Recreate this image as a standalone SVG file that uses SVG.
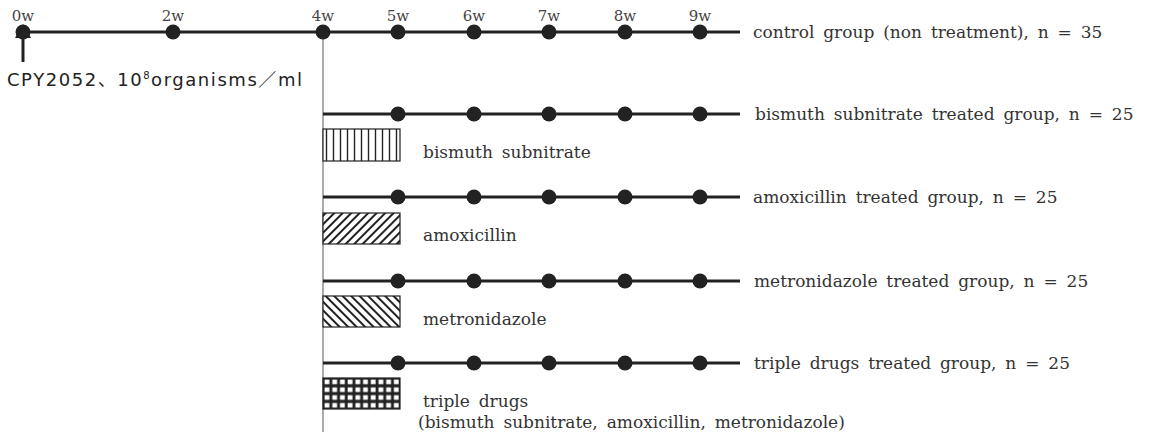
<svg xmlns="http://www.w3.org/2000/svg" width="1150" height="437" viewBox="0 0 1150 437">
  <style>
    .tl { stroke: #222; stroke-width: 3; fill: none; }
    .dot { fill: #222; }
    .wk { font-family: "DejaVu Serif", "Liberation Serif", serif; font-size: 15px; fill: #444; text-anchor: middle; }
    .lbl { font-family: "DejaVu Serif", "Liberation Serif", serif; font-size: 17px; fill: #333; word-spacing: 3.5px; }
    .box { stroke: #222; stroke-width: 1.2; }
  </style>
  <defs>
    <pattern id="vert" patternUnits="userSpaceOnUse" width="7" height="10" x="323">
      <rect width="7" height="10" fill="#fff"/>
      <line x1="3.5" y1="0" x2="3.5" y2="10" stroke="#222" stroke-width="1.4"/>
    </pattern>
    <!-- forward slashes //// -->
    <pattern id="fwd" patternUnits="userSpaceOnUse" width="6" height="6" patternTransform="rotate(-45)">
      <rect width="6" height="6" fill="#fff"/>
      <line x1="0" y1="3" x2="6" y2="3" stroke="#222" stroke-width="2"/>
    </pattern>
    <!-- back slashes \\\\ -->
    <pattern id="bwd" patternUnits="userSpaceOnUse" width="6" height="6" patternTransform="rotate(45)">
      <rect width="6" height="6" fill="#fff"/>
      <line x1="0" y1="3" x2="6" y2="3" stroke="#222" stroke-width="2"/>
    </pattern>
    <pattern id="grid" patternUnits="userSpaceOnUse" width="7.7" height="7.8" x="323" y="378">
      <rect width="7.7" height="7.8" fill="#222"/>
      <rect x="1.6" y="1.6" width="4.8" height="4.6" fill="#fff"/>
    </pattern>
  </defs>

  <!-- treatment start marker at week 4 -->
  <line x1="323" y1="38" x2="323" y2="432" stroke="#aaa" stroke-width="2"/>

  <g id="connectors">
    <line class="tl" x1="23" y1="32" x2="740" y2="32"/>
    <line class="tl" x1="323" y1="114" x2="740" y2="114"/>
    <line class="tl" x1="323" y1="197" x2="740" y2="197"/>
    <line class="tl" x1="323" y1="281" x2="740" y2="281"/>
    <line class="tl" x1="323" y1="363" x2="740" y2="363"/>
    <!-- inoculation arrow -->
    <line x1="23" y1="62" x2="23" y2="36" stroke="#222" stroke-width="3"/>
    <polygon points="23,24 15,38 31,38" fill="#222"/>
  </g>

  <g id="control">
    <g class="dot">
      <circle cx="23" cy="32" r="7.5"/>
      <circle cx="173" cy="32" r="7.5"/>
      <circle cx="323" cy="32" r="7.5"/>
      <circle cx="398" cy="32" r="7.5"/>
      <circle cx="474" cy="32" r="7.5"/>
      <circle cx="549" cy="32" r="7.5"/>
      <circle cx="625" cy="32" r="7.5"/>
      <circle cx="700" cy="32" r="7.5"/>
    </g>
    <text class="wk" x="23" y="21">0w</text>
    <text class="wk" x="173" y="21">2w</text>
    <text class="wk" x="323" y="21">4w</text>
    <text class="wk" x="398" y="21">5w</text>
    <text class="wk" x="474" y="21">6w</text>
    <text class="wk" x="549" y="21">7w</text>
    <text class="wk" x="625" y="21">8w</text>
    <text class="wk" x="700" y="21">9w</text>
    <text class="lbl" x="753" y="38">control group (non treatment), n = 35</text>
  </g>

  <g id="inoculation">
    <text x="7" y="86" font-family="'DejaVu Sans', 'Noto Sans CJK KR', sans-serif" font-size="18" fill="#222" textLength="295" lengthAdjust="spacing">CPY2052、10<tspan font-size="10" dy="-7">8</tspan><tspan dy="7">organisms／ml</tspan></text>
  </g>

  <g id="bismuth">
    <g class="dot">
      <circle cx="398" cy="114" r="7.5"/><circle cx="474" cy="114" r="7.5"/><circle cx="549" cy="114" r="7.5"/><circle cx="625" cy="114" r="7.5"/><circle cx="700" cy="114" r="7.5"/>
    </g>
    <rect class="box" x="323" y="129" width="77" height="32" fill="url(#vert)"/>
    <text class="lbl" x="423" y="158">bismuth subnitrate</text>
    <text class="lbl" x="755" y="120">bismuth subnitrate treated group, n = 25</text>
  </g>

  <g id="amoxicillin">
    <g class="dot">
      <circle cx="398" cy="197" r="7.5"/><circle cx="474" cy="197" r="7.5"/><circle cx="549" cy="197" r="7.5"/><circle cx="625" cy="197" r="7.5"/><circle cx="700" cy="197" r="7.5"/>
    </g>
    <rect class="box" x="323" y="213" width="77" height="31" fill="url(#fwd)"/>
    <text class="lbl" x="423" y="241">amoxicillin</text>
    <text class="lbl" x="753" y="203">amoxicillin treated group, n = 25</text>
  </g>

  <g id="metronidazole">
    <g class="dot">
      <circle cx="398" cy="281" r="7.5"/><circle cx="474" cy="281" r="7.5"/><circle cx="549" cy="281" r="7.5"/><circle cx="625" cy="281" r="7.5"/><circle cx="700" cy="281" r="7.5"/>
    </g>
    <rect class="box" x="323" y="296" width="77" height="31" fill="url(#bwd)"/>
    <text class="lbl" x="423" y="325">metronidazole</text>
    <text class="lbl" x="754" y="287">metronidazole treated group, n = 25</text>
  </g>

  <g id="triple">
    <g class="dot">
      <circle cx="398" cy="363" r="7.5"/><circle cx="474" cy="363" r="7.5"/><circle cx="549" cy="363" r="7.5"/><circle cx="625" cy="363" r="7.5"/><circle cx="700" cy="363" r="7.5"/>
    </g>
    <rect class="box" x="323" y="378" width="77" height="31" fill="url(#grid)"/>
    <text class="lbl" x="423" y="407">triple drugs</text>
    <text class="lbl" x="418" y="428">(bismuth subnitrate, amoxicillin, metronidazole)</text>
    <text class="lbl" x="754" y="369">triple drugs treated group, n = 25</text>
  </g>
</svg>
